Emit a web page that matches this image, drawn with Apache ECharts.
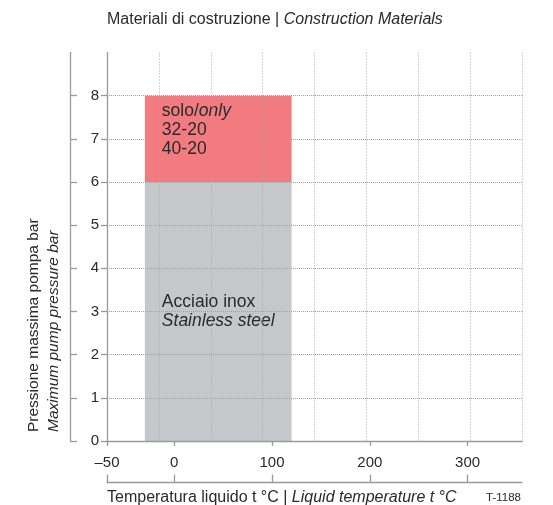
<!DOCTYPE html>
<html>
<head>
<meta charset="utf-8">
<script src="https://cdn.jsdelivr.net/npm/echarts@6/dist/echarts.min.js"></script>
<style>
html, body { margin: 0; padding: 0; background: #fff; }
#chart { width: 553px; height: 505px; }
</style>
</head>
<body>
<div id="chart"></div>
<script>
// temperature axis: the left edge is printed "-50" (compressed scale in the original)
const xRange = [-68.7, 355.6];
const xTicks = [-68.7, 0, 100, 200, 300];
const xTickLabels = ['–50', '0', '100', '200', '300'];
// pressure axis
const yRange = [0, 9];
const yTicks = [0, 1, 2, 3, 4, 5, 6, 7, 8];

// blocks: [t min, t max, p min, p max]
const blockRanges = [
    [-30, 120, 0, 6],
    [-30, 120, 6, 8]
];
const blockColors = ['#c5c8ca', '#f27b80'];
const blockTexts = [
    'Acciaio inox\n{i|Stainless steel}',
    'solo/{i|only}\n32-20\n40-20'
];

const FONT = '"Liberation Sans", Arial, sans-serif';
const TXT = '#2a2a2a';
const AXIS = '#9a9a9a';
const GRIDC = '#a0a0a0';

let myChart = echarts.init(document.getElementById('chart'));

function tickLabel(v) {
    let best = 0;
    for (let i = 0; i < xTicks.length; i++) {
        if (Math.abs(xTicks[i] - v) < Math.abs(xTicks[best] - v)) best = i;
    }
    return xTickLabels[best];
}

let option = {
    animation: false,
    grid: {
        left: 107,
        right: 31,
        top: 52.5,
        bottom: 64,
        outerBoundsMode: 'none'
    },
    xAxis: [{
        type: 'value',
        min: xRange[0],
        max: xRange[1],
        position: 'bottom',
        axisLine: { show: true, onZero: false, lineStyle: { color: AXIS, width: 1.3 } },
        axisTick: { show: true, customValues: xTicks, length: 5, lineStyle: { color: AXIS, width: 1.3 } },
        axisLabel: {
            customValues: xTicks,
            formatter: tickLabel,
            margin: 14,
            fontSize: 15,
            fontFamily: FONT,
            color: TXT
        },
        splitLine: { show: false }
    }, {
        // lower scale line
        type: 'value',
        min: xRange[0],
        max: xRange[1],
        position: 'bottom',
        offset: 41.5,
        axisLine: { show: true, onZero: false, lineStyle: { color: AXIS, width: 1.3 } },
        axisTick: { show: true, inside: true, customValues: xTicks, length: 8, lineStyle: { color: AXIS, width: 1.3 } },
        axisLabel: { show: false },
        splitLine: { show: false }
    }, {
        // dotted grid, 8 equal columns
        type: 'value',
        min: xRange[0],
        max: xRange[1],
        interval: (xRange[1] - xRange[0]) / 8,
        position: 'top',
        axisLine: { show: false },
        axisTick: { show: false },
        axisLabel: { show: false },
        splitLine: { show: true, lineStyle: { type: [1, 2], color: '#a8a8a8', width: 1 } }
    }],
    yAxis: [{
        type: 'value',
        min: yRange[0],
        max: yRange[1],
        interval: 1,
        position: 'left',
        axisLine: { show: true, onZero: false, lineStyle: { color: AXIS, width: 1.3 } },
        axisTick: { show: true, customValues: yTicks, length: 6, lineStyle: { color: AXIS, width: 1.3 } },
        axisLabel: {
            customValues: yTicks,
            margin: 8,
            fontSize: 15,
            fontFamily: FONT,
            color: TXT
        },
        splitLine: { show: true, lineStyle: { type: 'dotted', color: GRIDC, width: 1 } }
    }, {
        // outer scale line
        type: 'value',
        min: yRange[0],
        max: yRange[1],
        position: 'left',
        offset: 37,
        axisLine: { show: true, onZero: false, lineStyle: { color: AXIS, width: 1.3 } },
        axisTick: { show: true, inside: true, customValues: yTicks, length: 7, lineStyle: { color: AXIS, width: 1.3 } },
        axisLabel: { show: false },
        splitLine: { show: false }
    }],
    series: [{
        type: 'custom',
        z: -1,
        xAxisIndex: 0,
        yAxisIndex: 0,
        data: blockRanges,
        renderItem: function (params, api) {
            let idx = params.dataIndex;
            let p0 = api.coord([api.value(0), api.value(3)]);
            let p1 = api.coord([api.value(1), api.value(2)]);
            let w = p1[0] - p0[0];
            let h = p1[1] - p0[1];
            return {
                type: 'group',
                children: [{
                    type: 'rect',
                    shape: { x: p0[0], y: p0[1], width: w, height: h },
                    style: { fill: blockColors[idx] }
                }, {
                    type: 'text',
                    x: p0[0] + 17,
                    y: idx === 0 ? p0[1] + h / 2 : p0[1] + 6.5,
                    style: {
                        text: blockTexts[idx],
                        fill: TXT,
                        fontSize: 17.5,
                        fontFamily: FONT,
                        lineHeight: 18.8,
                        verticalAlign: idx === 0 ? 'middle' : 'top',
                        rich: {
                            i: { fontStyle: 'italic', fontSize: 17.5, fontFamily: FONT, lineHeight: 18.8, fill: TXT }
                        }
                    }
                }]
            };
        }
    }],
    graphic: [{
        type: 'text',
        x: 107,
        y: 19.5,
        style: {
            text: 'Materiali di costruzione | {i|Construction Materials}',
            fill: TXT,
            fontSize: 16,
            fontFamily: FONT,
            verticalAlign: 'middle',
            rich: { i: { fontStyle: 'italic', fontSize: 16, fontFamily: FONT, fill: TXT } }
        }
    }, {
        type: 'text',
        x: 107,
        y: 498,
        style: {
            text: 'Temperatura liquido t °C | {i|Liquid temperature t °C}',
            fill: TXT,
            fontSize: 16,
            fontFamily: FONT,
            verticalAlign: 'middle',
            rich: { i: { fontStyle: 'italic', fontSize: 16, fontFamily: FONT, fill: TXT } }
        }
    }, {
        type: 'text',
        x: 521,
        y: 498,
        style: {
            text: 'T-1188',
            fill: TXT,
            fontSize: 11.5,
            fontFamily: FONT,
            align: 'right',
            verticalAlign: 'middle'
        }
    }, {
        type: 'text',
        x: 24,
        y: 432,
        rotation: Math.PI / 2,
        style: {
            text: 'Pressione massima pompa bar\n{i|Maximum pump pressure bar}',
            fill: TXT,
            fontSize: 15.5,
            fontFamily: FONT,
            lineHeight: 20,
            align: 'left',
            verticalAlign: 'top',
            rich: { i: { fontStyle: 'italic', fontSize: 15.5, fontFamily: FONT, lineHeight: 20, fill: TXT } }
        }
    }]
};
myChart.setOption(option);
</script>
</body>
</html>
